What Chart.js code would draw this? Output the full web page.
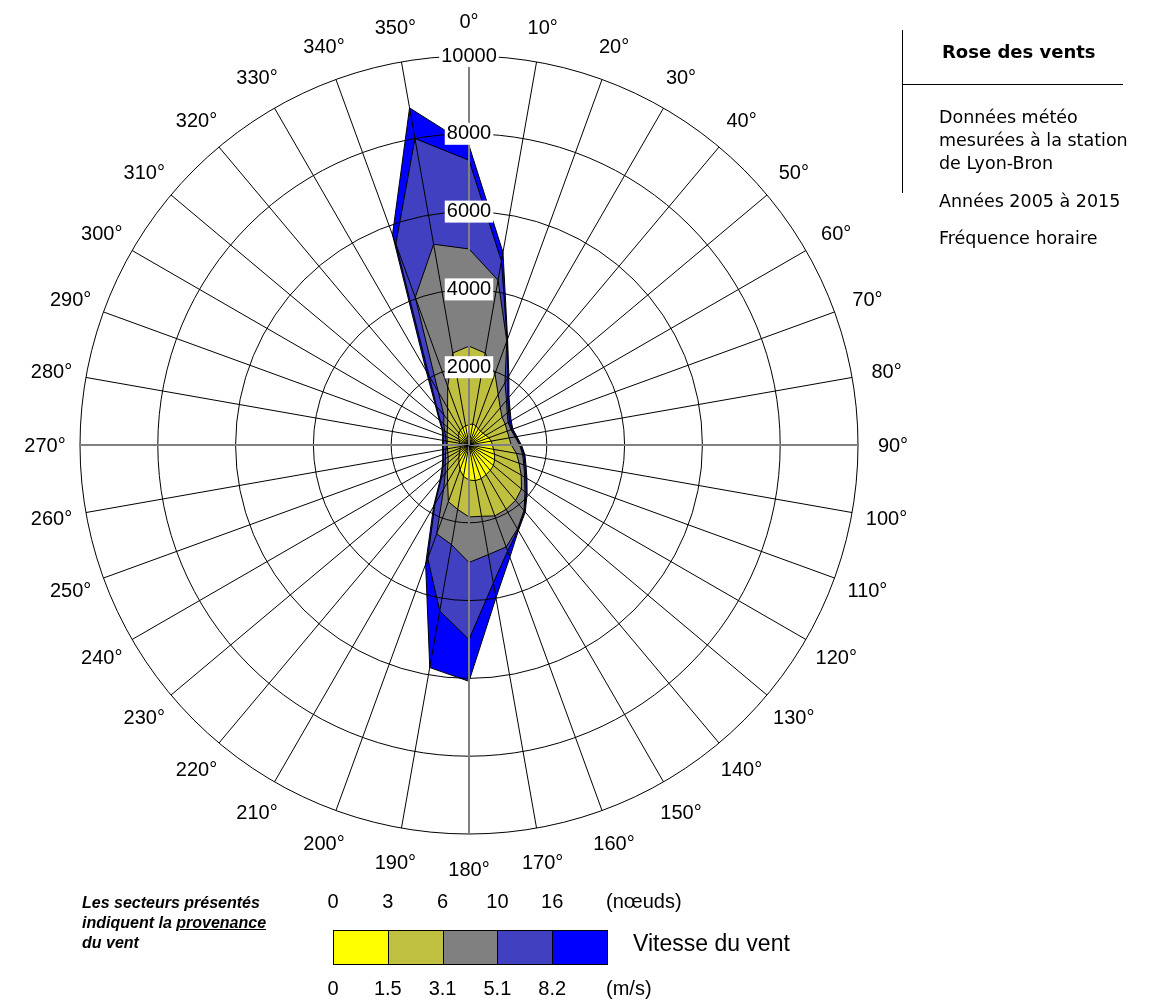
<!DOCTYPE html>
<html lang="fr">
<head>
<meta charset="utf-8">
<title>Rose des vents - Lyon-Bron</title>
<script src="https://cdn.jsdelivr.net/npm/chart.js@4.4.1/dist/chart.umd.min.js"></script>
<style>
  html, body { margin: 0; padding: 0; background: #fff; }
  body { position: relative; width: 1150px; height: 1001px; overflow: hidden;
         font-family: "Liberation Sans", Arial, sans-serif; color: #000; }
  #roseBox { position: absolute; left: 0; top: 0; width: 1150px; height: 1001px; }
  .abs { position: absolute; white-space: nowrap; }
  .side { font-family: "DejaVu Sans", Verdana, sans-serif; font-size: 17.5px; line-height: 17.5px; }
  .side.title { font-weight: bold; font-size: 18px; line-height: 18px; }
  .note { font-size: 16px; line-height: 16px; font-weight: bold; font-style: italic; }
  .num { font-size: 20px; line-height: 20px; transform: translateX(-50%); }
  .unit { font-size: 20px; line-height: 20px; }
  .swatch { position: absolute; top: 930px; height: 35px; border: 1px solid #000; box-sizing: border-box; }
</style>
</head>
<body>
<div id="roseBox"><canvas id="rose"></canvas></div>

<!-- cartouche -->
<div class="abs" style="left:902px; top:30px; width:1px; height:163px; background:#000"></div>
<div class="abs" style="left:902px; top:84px; width:221px; height:1px; background:#000"></div>
<div class="abs side title" style="left:942px; top:43px">Rose des vents</div>
<div class="abs side" style="left:939px; top:109px">Données météo</div>
<div class="abs side" style="left:939px; top:132px">mesurées à la station</div>
<div class="abs side" style="left:939px; top:155px">de Lyon-Bron</div>
<div class="abs side" style="left:939px; top:193px">Années 2005 à 2015</div>
<div class="abs side" style="left:939px; top:230px">Fréquence horaire</div>

<!-- note -->
<div class="abs note" style="left:82px; top:895px">Les secteurs présentés</div>
<div class="abs note" style="left:82px; top:915px">indiquent la <u>provenance</u></div>
<div class="abs note" style="left:82px; top:935px">du vent</div>

<div id="legend"></div>

<script>
// directions (provenance), clockwise from north
const directions = ['0°', '10°', '20°', '30°', '40°', '50°', '60°', '70°', '80°', '90°',
  '100°', '110°', '120°', '130°', '140°', '150°', '160°', '170°', '180°', '190°',
  '200°', '210°', '220°', '230°', '240°', '250°', '260°', '270°', '280°', '290°',
  '300°', '310°', '320°', '330°', '340°', '350°'];

// cumulated hours per sector, by wind speed class
const upTo15 = [520, 550, 520, 480, 460, 470, 500, 540, 580, 600,
  640, 700, 760, 820, 850, 880, 920, 930, 900, 820,
  680, 520, 400, 320, 270, 240, 230, 230, 240, 260,
  300, 350, 400, 440, 470, 500];
const upTo31 = [2540, 2400, 1950, 1500, 1250, 1110, 1075, 1045, 1050, 1085,
  1240, 1370, 1550, 1760, 1860, 1910, 1940, 1860, 1850, 1680,
  1550, 1100, 870, 700, 620, 580, 560, 560, 570, 600,
  650, 720, 850, 1100, 1600, 2400];
const upTo51 = [5040, 4300, 2840, 1850, 1500, 1280, 1160, 1150, 1200, 1300,
  1400, 1500, 1650, 1880, 2200, 2490, 2790, 2860, 3020, 2600,
  2430, 1300, 950, 800, 700, 640, 600, 580, 600, 640,
  720, 850, 1000, 1580, 4040, 5240];
const upTo82 = [7320, 4800, 2870, 2000, 1550, 1330, 1200, 1170, 1220, 1320,
  1430, 1530, 1690, 1920, 2220, 2520, 2900, 3600, 5000, 4330,
  3100, 1750, 1100, 870, 760, 700, 670, 660, 670, 700,
  780, 960, 1300, 2050, 5500, 8000];
const total = [7700, 5030, 2900, 2050, 1600, 1380, 1250, 1200, 1250, 1350,
  1460, 1560, 1720, 1950, 2250, 2540, 3070, 3990, 6075, 5810,
  3260, 1820, 1150, 900, 780, 720, 690, 680, 690, 720,
  800, 1000, 1350, 2200, 5750, 8800];

const radialMax = 10000;
const radialStep = 2000;

// speed classes: colours and bounds
const classColors = ['#ffff00', '#c0c040', '#808080', '#4040c0', '#0000ff'];
const knotBounds = ['0', '3', '6', '10', '16'];
const msBounds = ['0', '1.5', '3.1', '5.1', '8.2'];
const classSeries = [upTo15, upTo31, upTo51, upTo82, total];

Chart.defaults.font.family = "'Liberation Sans', Arial, sans-serif";
Chart.defaults.color = '#000';

// direction labels centred just outside the outer ring
const directionLabels = {
  id: 'directionLabels',
  afterDraw(chart) {
    const scale = chart.scales.r;
    const c = chart.ctx;
    c.save();
    c.font = "20px 'Liberation Sans', Arial, sans-serif";
    c.fillStyle = '#000';
    c.textAlign = 'center';
    c.textBaseline = 'middle';
    directions.forEach((lab, i) => {
      const p = scale.getPointPosition(i, scale.drawingArea + 35);
      c.fillText(lab, p.x, p.y + 1);
    });
    c.restore();
  }
};

const ctx = document.getElementById('rose').getContext('2d');
new Chart(ctx, {
  type: 'radar',
  data: {
    labels: directions,
    // first dataset is painted last, so the slow class stays on top
    datasets: classSeries.map((serie, i) => ({
      label: msBounds[i],
      data: serie,
      backgroundColor: classColors[i],
      borderColor: '#000',
      borderWidth: 1,
      fill: 'origin',
      tension: 0,
      pointRadius: 0,
      pointHoverRadius: 0
    }))
  },
  options: {
    responsive: true,
    maintainAspectRatio: false,
    animation: false,
    events: [],
    layout: { padding: { left: 69, right: 281, top: 45, bottom: 156 } },
    plugins: { legend: { display: false }, tooltip: { enabled: false } },
    scales: {
      r: {
        min: 0,
        max: radialMax,
        ticks: {
          z: 2,
          stepSize: radialStep,
          color: '#000',
          font: { size: 20 },
          showLabelBackdrop: true,
          backdropColor: '#fff',
          backdropPadding: { x: 2, y: 1 },
          callback: v => String(v)
        },
        grid: { z: 1, circular: true, color: '#000', lineWidth: 1 },
        angleLines: {
          color: c => (c.index % 9 === 0 ? '#808080' : '#000'),
          lineWidth: c => (c.index % 9 === 0 ? 2 : 1)
        },
        pointLabels: { display: false }
      }
    }
  },
  plugins: [directionLabels]
});

// colour bar with the class bounds in knots and m/s
const legend = document.getElementById('legend');
const barLeft = 333, barW = 54.8;
let html = '';
classColors.forEach((col, i) => {
  const x = barLeft + i * barW;
  html += `<div class="swatch" style="left:${x}px; width:${barW + 1}px; background:${col}"></div>`;
  html += `<div class="abs num" style="left:${x}px; top:891px">${knotBounds[i]}</div>`;
  html += `<div class="abs num" style="left:${x}px; top:978px">${msBounds[i]}</div>`;
});
html += `<div class="abs unit" style="left:606px; top:891px">(nœuds)</div>`;
html += `<div class="abs unit" style="left:606px; top:978px">(m/s)</div>`;
html += `<div class="abs" style="left:633px; top:932px; font-size:23px; line-height:23px">Vitesse du vent</div>`;
legend.innerHTML = html;
</script>
</body>
</html>
